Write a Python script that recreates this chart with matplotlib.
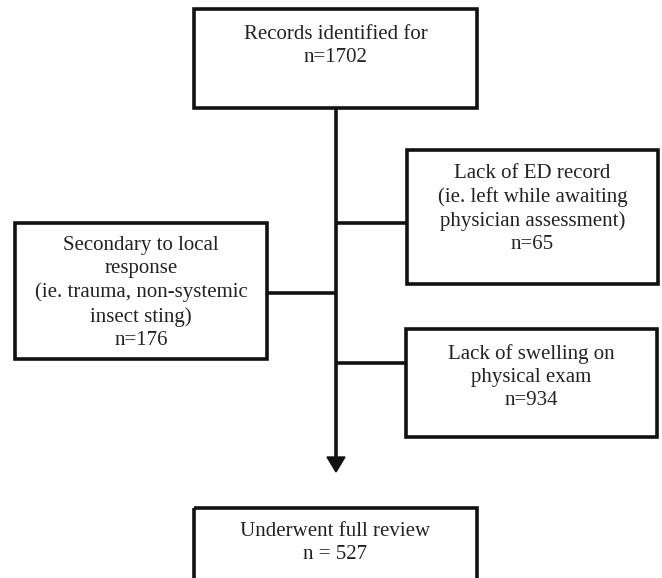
import matplotlib.pyplot as plt
from matplotlib.patches import Rectangle, Polygon

plt.rcParams['font.family'] = ['Liberation Serif', 'DejaVu Serif']

# box contents
labels = [
    "Records identified for",
    "Secondary to local\nresponse\n(ie. trauma, non-systemic\ninsect sting)",
    "Lack of ED record\n(ie. left while awaiting\nphysician assessment)",
    "Lack of swelling on\nphysical exam",
    "Underwent full review",
]
counts = ["n=1702", "n=176", "n=65", "n=934", "n = 527"]

# box layout in pixels: x0, y0, x1, y1 (y downwards), text centre y
boxes = [
    (194, 9, 477, 108, 46),
    (15, 223, 267, 359, 293),
    (407, 150, 658, 284, 209),
    (406, 329, 657, 437, 377),
    (194, 508, 477, 600, 543),
]

fig = plt.figure(figsize=(6.62, 5.78), dpi=100)
ax = fig.add_axes([0, 0, 1, 1])
ax.set_xlim(0, 662)
ax.set_ylim(578, 0)
ax.axis('off')

lc = '#111111'
lw = 2.6

for (x0, y0, x1, y1, ty), lab, n in zip(boxes, labels, counts):
    ax.add_patch(Rectangle((x0, y0), x1 - x0, y1 - y0, fill=False,
                           edgecolor=lc, linewidth=lw, joinstyle='miter',
                           clip_on=False, snap=False))
    ax.text((x0 + x1) / 2, ty, lab + "\n" + n, ha='center', va='center',
            fontsize=15, color='#222222', linespacing=1.3)

# main spine, arrow head and side connectors
cx = 336
ax.plot([cx, cx], [108, 460], color=lc, lw=lw, solid_capstyle='butt')
ax.add_patch(Polygon([(cx - 9, 457), (cx + 9, 457), (cx, 472)],
                     closed=True, color=lc))
ax.plot([267, cx], [293, 293], color=lc, lw=lw, solid_capstyle='butt')
ax.plot([cx, 407], [223, 223], color=lc, lw=lw, solid_capstyle='butt')
ax.plot([cx, 406], [363, 363], color=lc, lw=lw, solid_capstyle='butt')

fig.savefig("out.png", dpi=100)
